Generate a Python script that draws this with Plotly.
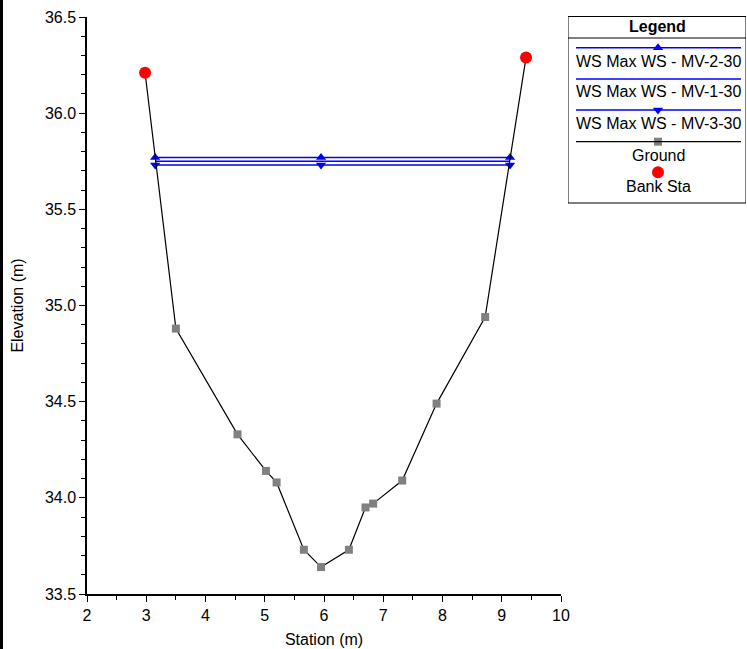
import plotly.graph_objects as go

# ---------------- data ----------------
ground_x = [2.98, 3.50, 4.54, 5.02, 5.20, 5.66, 5.95, 6.42, 6.70, 6.83, 7.32, 7.90, 8.72, 9.41]
ground_y = [36.21, 34.88, 34.33, 34.14, 34.08, 33.73, 33.64, 33.73, 33.95, 33.97, 34.09, 34.49, 34.94, 36.29]

bank_x = [2.98, 9.41]
bank_y = [36.21, 36.29]

ws_x = [3.15, 5.95, 9.14]
ws_mv2 = [35.77, 35.77, 35.77]
ws_mv1 = [35.75, 35.75, 35.75]
ws_mv3 = [35.73, 35.73, 35.73]

legend_labels = ["WS Max WS - MV-2-30", "WS Max WS - MV-1-30", "WS Max WS - MV-3-30", "Ground", "Bank Sta"]

W, H = 747, 649
ML, MR, MT, MB = 87, 1, 16, 55
PW = W - ML - MR
PH = H - MT - MB
FONT = "Liberation Sans, Arial, sans-serif"

fig = go.Figure()

BLUE = "#0000FF"
fig.add_trace(go.Scatter(x=ws_x, y=ws_mv2, mode="lines+markers",
                         line=dict(color=BLUE, width=1.5),
                         marker=dict(symbol="triangle-up", size=9, color=BLUE)))
fig.add_trace(go.Scatter(x=ws_x, y=ws_mv1, mode="lines",
                         line=dict(color=BLUE, width=1.5)))
fig.add_trace(go.Scatter(x=ws_x, y=ws_mv3, mode="lines+markers",
                         line=dict(color=BLUE, width=1.5),
                         marker=dict(symbol="triangle-down", size=9, color=BLUE)))
fig.add_trace(go.Scatter(x=ground_x, y=ground_y, mode="lines+markers",
                         line=dict(color="black", width=1.2),
                         marker=dict(symbol="square", size=8, color="#808080")))
fig.add_trace(go.Scatter(x=bank_x, y=bank_y, mode="markers",
                         marker=dict(symbol="circle", size=12, color="#FF0000")))

# ---------------- manual legend (pixel-based overlay axes) ----------------
main_x_right = (561 - ML) / PW
leg_x0 = (568 - ML) / PW
leg_y0 = 1 - (204 - MT) / PH

lx0, lx1 = 576, 741
cx = 658
line_ys = [47.7, 79, 110, 141.7]
text_ys = [61.7, 91.7, 123, 155.7, 186]
bank_sym_y = 172.3

shapes = [
    dict(type="rect", xref="x2", yref="y2", x0=568, x1=746, y0=16.5, y1=203,
         line=dict(color="black", width=1)),
    dict(type="line", xref="x2", yref="y2", x0=568, x1=746, y0=38, y1=38,
         line=dict(color="black", width=1)),
]
line_colors = [BLUE, BLUE, BLUE, "black"]
for ly, lc in zip(line_ys, line_colors):
    shapes.append(dict(type="line", xref="x2", yref="y2", x0=lx0, x1=lx1, y0=ly, y1=ly,
                       line=dict(color=lc, width=1.5 if lc == BLUE else 1.2)))
# left frame border
shapes.append(dict(type="line", xref="paper", yref="paper",
                   x0=(1.5 - ML) / PW, x1=(1.5 - ML) / PW, y0=-MB / PH, y1=1 + MT / PH,
                   line=dict(color="black", width=3)))

# legend symbol markers
fig.add_trace(go.Scatter(x=[cx], y=[line_ys[0]], xaxis="x2", yaxis="y2", mode="markers",
                         marker=dict(symbol="triangle-up", size=9, color=BLUE)))
fig.add_trace(go.Scatter(x=[cx], y=[line_ys[2]], xaxis="x2", yaxis="y2", mode="markers",
                         marker=dict(symbol="triangle-down", size=9, color=BLUE)))
fig.add_trace(go.Scatter(x=[cx], y=[line_ys[3]], xaxis="x2", yaxis="y2", mode="markers",
                         marker=dict(symbol="square", size=8, color="#808080")))
fig.add_trace(go.Scatter(x=[cx], y=[bank_sym_y], xaxis="x2", yaxis="y2", mode="markers",
                         marker=dict(symbol="circle", size=12, color="#FF0000")))

annotations = [dict(text="<b>Legend</b>", xref="x2", yref="y2", x=657, y=26.5,
                    showarrow=False, font=dict(family=FONT, size=16, color="black"))]
for t, ty in zip(legend_labels, text_ys):
    annotations.append(dict(text=t, xref="x2", yref="y2", x=cx, y=ty, showarrow=False,
                            font=dict(family=FONT, size=16, color="black")))

fig.update_layout(
    width=W, height=H,
    margin=dict(l=ML, r=MR, t=MT, b=MB, pad=0, autoexpand=False),
    paper_bgcolor="white", plot_bgcolor="white",
    showlegend=False,
    font=dict(family=FONT, size=16, color="black"),
    shapes=shapes, annotations=annotations,
    xaxis=dict(domain=[0, main_x_right], range=[2, 10], dtick=1, tick0=0,
               automargin=False,
               showline=True, linecolor="black", linewidth=1.5,
               ticks="outside", ticklen=6, tickcolor="black",
               minor=dict(dtick=0.5, ticks="outside", ticklen=4, tickcolor="black"),
               showgrid=False, zeroline=False,
               tickfont=dict(family=FONT, size=16),
               title=dict(text="Station (m)", font=dict(family=FONT, size=16), standoff=11)),
    yaxis=dict(domain=[0, 1 - 1 / PH], range=[33.5, 36.5], dtick=0.5, tick0=0,
               tickformat=".1f", automargin=False,
               showline=True, linecolor="black", linewidth=1.5,
               ticks="outside", ticklen=6, tickcolor="black",
               minor=dict(dtick=0.1, ticks="outside", ticklen=4, tickcolor="black"),
               showgrid=False, zeroline=False,
               tickfont=dict(family=FONT, size=16),
               title=dict(text="Elevation (m)", font=dict(family=FONT, size=16), standoff=17)),
    xaxis2=dict(domain=[leg_x0, 1], range=[568, 746], visible=False, anchor="y2", automargin=False),
    yaxis2=dict(domain=[leg_y0, 1], range=[204, 16], visible=False, anchor="x2", automargin=False),
)

fig.write_html("out.html")
